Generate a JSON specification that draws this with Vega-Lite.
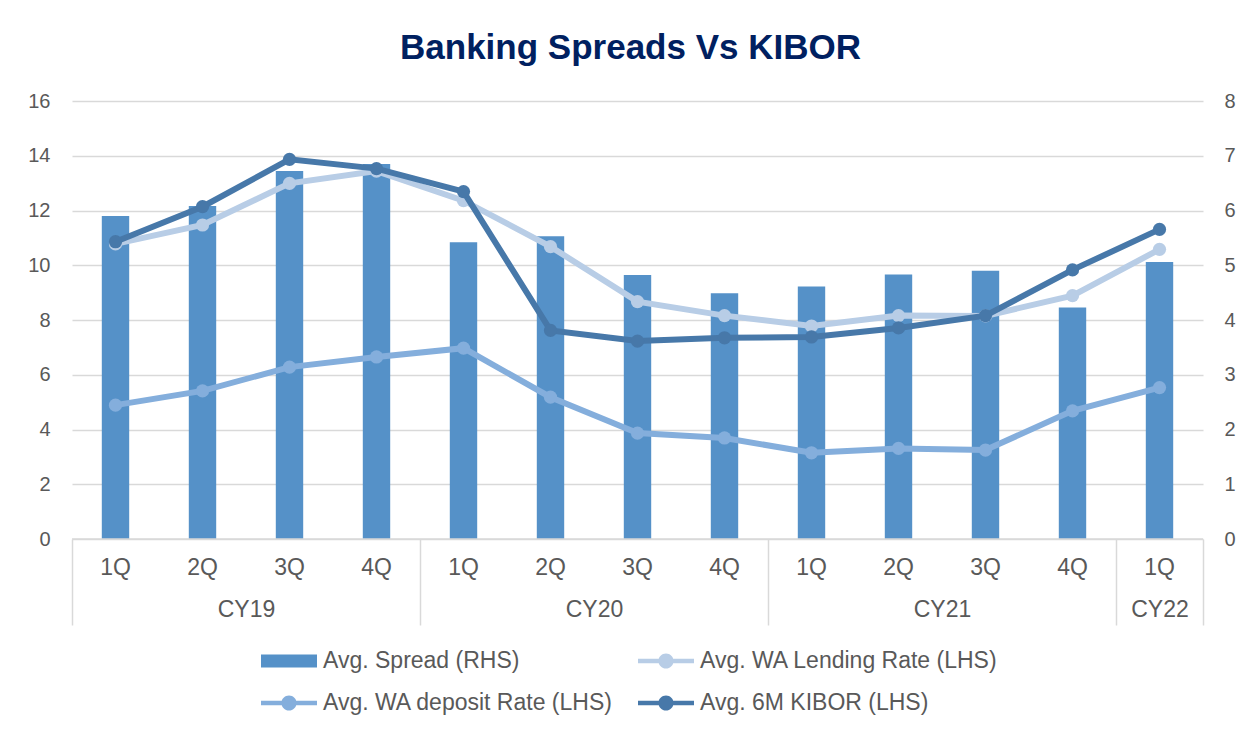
{
  "$schema": "https://vega.github.io/schema/vega-lite/v6.json",
  "width": 1131,
  "height": 438,
  "autosize": {"type": "none"},
  "padding": {"left": 72, "top": 101, "right": 47, "bottom": 193},
  "background": "white",
  "title": {
    "text": "Banking Spreads Vs KIBOR",
    "font": "Liberation Sans",
    "fontSize": 35,
    "fontWeight": "bold",
    "color": "#002060",
    "anchor": "middle",
    "baseline": "alphabetic",
    "offset": -3,
    "dx": -7
  },
  "config": {
    "view": {"stroke": null},
    "axis": {"labelFont": "Liberation Sans", "labelColor": "#595959", "titleFont": "Liberation Sans"},
    "legend": {"labelFont": "Liberation Sans"}
  },
  "data": {
    "values": [
      {"period": "CY19 1Q", "spread": 5.90, "lending": 10.78, "deposit": 4.89, "kibor": 10.86},
      {"period": "CY19 2Q", "spread": 6.08, "lending": 11.47, "deposit": 5.41, "kibor": 12.14},
      {"period": "CY19 3Q", "spread": 6.72, "lending": 12.99, "deposit": 6.28, "kibor": 13.87},
      {"period": "CY19 4Q", "spread": 6.85, "lending": 13.44, "deposit": 6.65, "kibor": 13.53},
      {"period": "CY20 1Q", "spread": 5.42, "lending": 12.36, "deposit": 6.97, "kibor": 12.69},
      {"period": "CY20 2Q", "spread": 5.53, "lending": 10.68, "deposit": 5.18, "kibor": 7.62},
      {"period": "CY20 3Q", "spread": 4.82, "lending": 8.67, "deposit": 3.87, "kibor": 7.23},
      {"period": "CY20 4Q", "spread": 4.49, "lending": 8.16, "deposit": 3.69, "kibor": 7.35},
      {"period": "CY21 1Q", "spread": 4.61, "lending": 7.78, "deposit": 3.15, "kibor": 7.38},
      {"period": "CY21 2Q", "spread": 4.83, "lending": 8.16, "deposit": 3.31, "kibor": 7.71},
      {"period": "CY21 3Q", "spread": 4.90, "lending": 8.15, "deposit": 3.25, "kibor": 8.16},
      {"period": "CY21 4Q", "spread": 4.23, "lending": 8.89, "deposit": 4.68, "kibor": 9.83},
      {"period": "CY22 1Q", "spread": 5.06, "lending": 10.58, "deposit": 5.53, "kibor": 11.31}
    ]
  },
  "layer": [
    {
      "mark": {"type": "bar"},
      "encoding": {
        "x": {
          "field": "period", "type": "ordinal", "sort": null,
          "scale": {"type": "band", "paddingInner": 0.685, "paddingOuter": 0.3425},
          "axis": {
            "orient": "bottom", "title": null, "labelAngle": 0,
            "labelExpr": "split(datum.value, ' ')[1]",
            "labelFontSize": 23, "labelPadding": 17,
            "ticks": false, "tickSize": 0, "domain": false, "grid": false
          }
        },
        "y": {
          "field": "spread", "type": "quantitative",
          "scale": {"domain": [0, 8], "nice": false, "zero": true},
          "axis": {
            "orient": "right", "title": null, "values": [0, 1, 2, 3, 4, 5, 6, 7, 8],
            "grid": false, "domain": false, "ticks": false, "tickSize": 0,
            "labelPadding": 21, "labelFontSize": 20
          }
        },
        "color": {
          "datum": "Avg. Spread (RHS)",
          "type": "nominal",
          "scale": {
            "domain": ["Avg. Spread (RHS)", "Avg. WA Lending Rate (LHS)", "Avg. WA deposit Rate (LHS)", "Avg. 6M KIBOR (LHS)"],
            "range": ["#5591C8", "#B8CDE6", "#84AEDC", "#4778A9"]
          },
          "legend": {
            "orient": "none", "legendX": 189, "legendY": 532,
            "direction": "horizontal",
            "columns": 2, "title": null, "padding": 0,
            "labelFontSize": 23, "labelColor": "#595959", "labelLimit": 0,
            "labelOffset": 6, "columnPadding": 24, "rowPadding": 2,
            "symbolSize": 3136, "symbolStrokeWidth": 0, "symbolOpacity": 1,
            "encode": {
              "symbols": {
                "update": {
                  "shape": {"signal": "datum.value === 'Avg. Spread (RHS)' ? 'M-1,-0.23H1V0.23H-1Z' : 'M-1,-0.08H1V0.08H-1Z M0.27,0 A0.27,0.27 0 1 1 -0.27,0 A0.27,0.27 0 1 1 0.27,0Z'"},
                  "fill": {"scale": "color", "field": "value"},
                  "strokeWidth": {"value": 0},
                  "opacity": {"value": 1}
                }
              }
            }
          }
        }
      }
    },
    {
      "encoding": {
        "x": {
          "field": "period", "type": "ordinal", "sort": null,
          "scale": {"type": "band", "paddingInner": 0.685, "paddingOuter": 0.3425},
          "axis": null
        }
      },
      "layer": [
        {
          "mark": {"type": "line", "strokeWidth": 6, "point": {"filled": true, "size": 175, "opacity": 1}},
          "encoding": {
            "y": {
              "field": "lending", "type": "quantitative",
              "scale": {"domain": [0, 16], "nice": false},
              "axis": {
                "orient": "left", "title": null, "values": [0, 2, 4, 6, 8, 10, 12, 14, 16],
                "grid": true, "gridColor": "#D9D9D9", "gridWidth": 1.5,
                "domain": false, "ticks": false, "tickSize": 0,
                "labelPadding": 22, "labelFontSize": 20
              }
            },
            "color": {"datum": "Avg. WA Lending Rate (LHS)", "type": "nominal"}
          }
        },
        {
          "mark": {"type": "line", "strokeWidth": 6, "point": {"filled": true, "size": 175, "opacity": 1}},
          "encoding": {
            "y": {
              "field": "deposit", "type": "quantitative",
              "scale": {"domain": [0, 16], "nice": false},
              "axis": {
                "orient": "left", "title": null, "values": [0, 2, 4, 6, 8, 10, 12, 14, 16],
                "grid": true, "gridColor": "#D9D9D9", "gridWidth": 1.5,
                "domain": false, "ticks": false, "tickSize": 0,
                "labelPadding": 22, "labelFontSize": 20
              }
            },
            "color": {"datum": "Avg. WA deposit Rate (LHS)", "type": "nominal"}
          }
        },
        {
          "mark": {"type": "line", "strokeWidth": 6, "point": {"filled": true, "size": 175, "opacity": 1}},
          "encoding": {
            "y": {
              "field": "kibor", "type": "quantitative",
              "scale": {"domain": [0, 16], "nice": false},
              "axis": {
                "orient": "left", "title": null, "values": [0, 2, 4, 6, 8, 10, 12, 14, 16],
                "grid": true, "gridColor": "#D9D9D9", "gridWidth": 1.5,
                "domain": false, "ticks": false, "tickSize": 0,
                "labelPadding": 22, "labelFontSize": 20
              }
            },
            "color": {"datum": "Avg. 6M KIBOR (LHS)", "type": "nominal"}
          }
        }
      ]
    },
    {
      "data": {
        "values": [
          {"year": "CY19", "start": 0, "end": 4},
          {"year": "CY20", "start": 4, "end": 8},
          {"year": "CY21", "start": 8, "end": 12},
          {"year": "CY22", "start": 12, "end": 13}
        ]
      },
      "mark": {"type": "rule", "color": "#D9D9D9", "strokeWidth": 1.5},
      "encoding": {
        "x": {
          "field": "start", "type": "quantitative",
          "scale": {"domain": [0, 13], "nice": false, "zero": false},
          "axis": {
            "orient": "bottom", "title": null,
            "values": [0, 2, 4, 6, 8, 10, 12, 12.5, 13],
            "labelExpr": "datum.value == 2 ? 'CY19' : datum.value == 6 ? 'CY20' : datum.value == 10 ? 'CY21' : datum.value == 12.5 ? 'CY22' : ''",
            "labelFontSize": 23, "labelPadding": -27, "labelFlush": false, "labelOverlap": false,
            "tickSize": 86, "tickColor": "#D9D9D9", "tickWidth": 1.5,
            "tickOpacity": {"condition": {"test": "datum.value == 0 || datum.value == 4 || datum.value == 8 || datum.value == 12 || datum.value == 13", "value": 1}, "value": 0},
            "domain": false, "grid": false
          }
        },
        "x2": {"field": "end"},
        "y": {"datum": 0, "type": "quantitative", "scale": {"domain": [0, 16], "nice": false}, "axis": null}
      }
    }
  ],
  "resolve": {
    "scale": {"x": "independent", "y": "independent"},
    "axis": {"x": "independent", "y": "independent"}
  }
}
